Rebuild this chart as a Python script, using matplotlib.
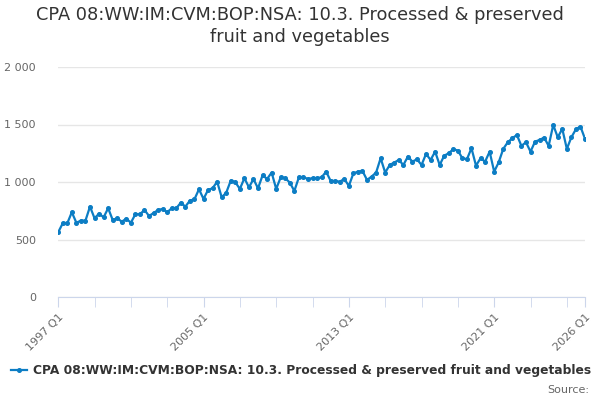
import numpy as np
import matplotlib
matplotlib.use("Agg")
import matplotlib.pyplot as plt
from matplotlib.ticker import FixedLocator, FuncFormatter

# quarterly values, 1997 Q1 .. 2026 Q1
values = [563, 641, 641, 737, 646, 664, 664, 786, 685, 725,
          693, 772, 670, 685, 655, 681, 646, 720, 720, 757,
          705, 730, 757, 766, 737, 772, 772, 820, 786, 838,
          850, 937, 853, 931, 946, 1003, 867, 907, 1012, 998,
          940, 1033, 954, 1025, 945, 1058, 1027, 1082, 940, 1041,
          1033, 995, 922, 1041, 1041, 1027, 1033, 1033, 1041, 1090,
          1009, 1009, 1003, 1027, 966, 1075, 1090, 1096, 1018, 1047,
          1082, 1207, 1082, 1148, 1169, 1192, 1148, 1221, 1177, 1198,
          1148, 1244, 1192, 1264, 1148, 1229, 1250, 1286, 1273, 1207,
          1198, 1294, 1142, 1207, 1177, 1264, 1090, 1172, 1288, 1346,
          1381, 1409, 1314, 1346, 1264, 1351, 1366, 1386, 1314, 1496,
          1389, 1462, 1288, 1389, 1459, 1482, 1375]
quarters = ["%d Q%d" % (1997 + i // 4, i % 4 + 1) for i in range(len(values))]
label_quarters = ["1997 Q1", "2005 Q1", "2013 Q1", "2021 Q1", "2026 Q1"]
series_name = "CPA 08:WW:IM:CVM:BOP:NSA: 10.3. Processed & preserved fruit and vegetables"
title = "CPA 08:WW:IM:CVM:BOP:NSA: 10.3. Processed & preserved\nfruit and vegetables"
yticks = [0, 500, 1000, 1500, 2000]

plt.rcParams['font.family'] = ['DejaVu Sans']

fig = plt.figure(figsize=(6, 4), dpi=100)
ax = fig.add_axes([0.097, 0.2575, 0.878, 0.575])

x = np.arange(len(values))
ax.plot(x, values, color='#0c7dc4', lw=1.6, marker='o', ms=2.6, zorder=3)

ax.set_xlim(0, len(values) - 1)
ax.set_ylim(0, 2000)

# y axis
ax.yaxis.set_major_locator(FixedLocator(yticks))
ax.yaxis.set_major_formatter(FuncFormatter(lambda v, p: format(int(v), ',').replace(',', ' ')))
ax.grid(axis='y', color='#e6e6e6', lw=1)
ax.tick_params(axis='y', length=0, labelsize=8, labelcolor='#666666', pad=16)

# x axis
major = [quarters.index(q) for q in label_quarters]
minor = list(range(0, len(values), 8))
ax.xaxis.set_major_locator(FixedLocator(major))
ax.xaxis.set_minor_locator(FixedLocator(minor))
ax.set_xticklabels(label_quarters, rotation=45, ha='right', rotation_mode='anchor')
ax.tick_params(axis='x', which='both', length=7, color='#ccd6eb', labelsize=8,
               labelcolor='#666666', pad=4)

for s in ['top', 'right', 'left']:
    ax.spines[s].set_visible(False)
ax.spines['bottom'].set_color('#ccd6eb')
ax.set_axisbelow(True)

fig.suptitle(title, y=0.985, fontsize=12.8, color='#333333', linespacing=1.25)

leg = fig.legend([ax.lines[0]], [series_name], loc='lower center',
                 bbox_to_anchor=(0.502, 0.03), frameon=False,
                 prop={'size': 8.8, 'weight': 'bold'}, handlelength=1.3,
                 handletextpad=0.5)
for t in leg.get_texts():
    t.set_color('#333333')

fig.text(0.982, 0.012, "Source:", ha='right', va='bottom', fontsize=8, color='#666666')

plt.savefig("out.png", dpi=100)
